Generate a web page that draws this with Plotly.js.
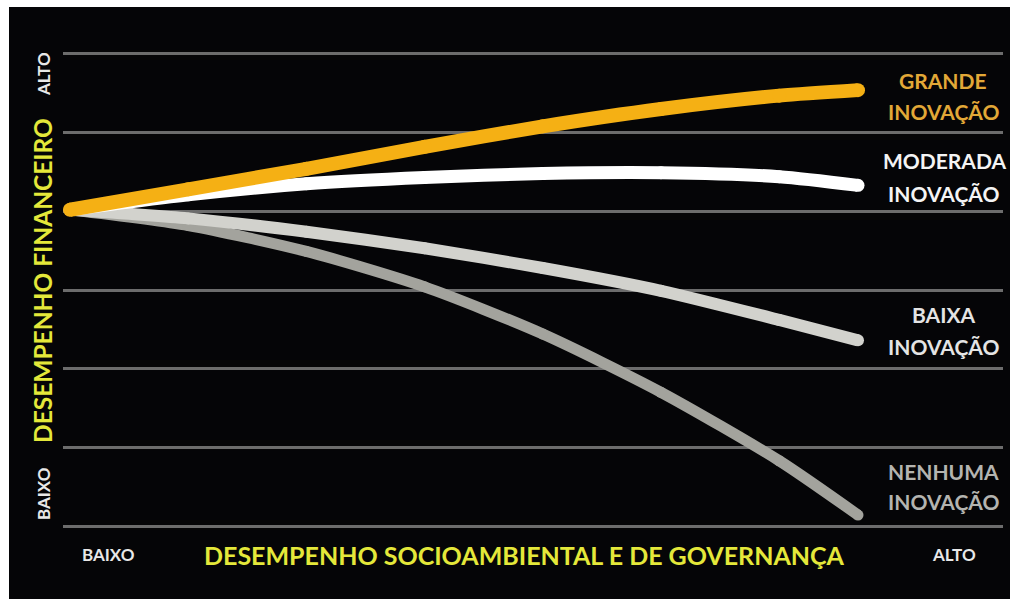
<!DOCTYPE html>
<html>
<head>
<meta charset="utf-8">
<script src="https://cdn.plot.ly/plotly-3.0.1.min.js"></script>
<style>
  html, body { margin: 0; padding: 0; background: #ffffff; width: 1022px; height: 599px; overflow: hidden; }
  #chart { position: absolute; left: 9px; top: 7px; width: 1001px; height: 592px; }
</style>
</head>
<body>
<div id="chart"></div>
<script>
// Socio-environmental & governance performance (x, 0..100) vs financial performance (y, 0..60)
const xValues = [0, 15, 30, 45, 60, 75, 90, 100];
const grande   = [40.2, 42.8, 45.4, 48.2, 50.8, 53.0, 54.7, 55.4];
const moderada = [40.2, 42.1, 43.5, 44.3, 44.8, 44.9, 44.4, 43.3];
const baixa    = [40.2, 39.1, 37.4, 35.3, 32.8, 29.9, 26.2, 23.6];
const nenhuma  = [40.2, 38.2, 34.9, 30.4, 24.4, 17.0, 8.3, 1.4];
const gridLevels = [0, 10, 20, 30, 40, 50, 60];

const seriesNames = ["NENHUMA INOVAÇÃO", "BAIXA INOVAÇÃO", "MODERADA INOVAÇÃO", "GRANDE INOVAÇÃO"];
const seriesData = [nenhuma, baixa, moderada, grande];
const seriesColors = ["#a3a39d", "#d2d2cd", "#ffffff", "#f5b014"];
const seriesWidths = [11, 12, 13, 14];

const traces = seriesData.map((ys, i) => ({
  type: "scatter",
  mode: "lines+markers",
  name: seriesNames[i],
  x: xValues,
  y: ys,
  line: { color: seriesColors[i], width: seriesWidths[i], shape: "spline", smoothing: 0.7 },
  marker: { color: seriesColors[i], size: seriesWidths[i], line: { width: 0 } },
  hoverinfo: "skip"
}));

// plot area: 940 x 480 px (page x 63..1003, page y 50..530)
const PW = 940, PH = 480;
const px = (pageX) => (pageX - 63) / PW;
const py = (pageY) => (530 - pageY) / PH;

const labelFont = (color, size) => ({ family: "Lato, 'Open Sans', sans-serif", size: size, color: color, weight: 700 });

const annotations = [
  { text: "<b>GRANDE</b>",   x: px(943), y: py(80),  font: labelFont("#e2a837", 21) },
  { text: "<b>INOVAÇÃO</b>", x: px(943), y: py(111), font: labelFont("#e2a837", 21) },
  { text: "<b>MODERADA</b>", x: px(944), y: py(161), font: labelFont("#f4f4f4", 21) },
  { text: "<b>INOVAÇÃO</b>", x: px(943), y: py(193), font: labelFont("#f4f4f4", 21) },
  { text: "<b>BAIXA</b>",    x: px(943), y: py(315), font: labelFont("#e4e4e4", 21) },
  { text: "<b>INOVAÇÃO</b>", x: px(943), y: py(346), font: labelFont("#e4e4e4", 21) },
  { text: "<b>NENHUMA</b>",  x: px(943), y: py(471), font: labelFont("#b4b4b0", 21) },
  { text: "<b>INOVAÇÃO</b>", x: px(943), y: py(501), font: labelFont("#b4b4b0", 21) },
  { text: "<b>ALTO</b>",  x: px(43), y: py(74),  textangle: -90, font: labelFont("#e8e8e8", 17) },
  { text: "<b>BAIXO</b>", x: px(43), y: py(494), textangle: -90, font: labelFont("#e8e8e8", 17) },
  { text: "<b>DESEMPENHO FINANCEIRO</b>", x: px(42), y: py(281), textangle: -90, font: labelFont("#e4e83a", 24.5) },
  { text: "<b>BAIXO</b>", x: px(108), y: py(554), font: labelFont("#e8e8e8", 17) },
  { text: "<b>DESEMPENHO SOCIOAMBIENTAL E DE GOVERNANÇA</b>", x: px(524), y: py(555), font: labelFont("#e4e83a", 25) },
  { text: "<b>ALTO</b>",  x: px(954), y: py(554), font: labelFont("#e8e8e8", 17) }
].map(a => Object.assign({ xref: "paper", yref: "paper", xanchor: "center", yanchor: "middle", showarrow: false }, a));

const layout = {
  width: 1001,
  height: 592,
  margin: { l: 54, r: 7, t: 43, b: 69 },
  paper_bgcolor: "#050507",
  plot_bgcolor: "#050507",
  showlegend: false,
  xaxis: {
    range: [-0.888, 118.4],
    showgrid: false, zeroline: false, showline: false, showticklabels: false, ticks: ""
  },
  yaxis: {
    range: [-0.5, 60.5],
    tickmode: "array",
    tickvals: gridLevels,
    showgrid: true, gridcolor: "#6c6c6c", gridwidth: 3,
    zeroline: false, showline: false, showticklabels: false, ticks: ""
  },
  annotations: annotations
};

Plotly.newPlot("chart", traces, layout, { staticPlot: true, displayModeBar: false });
</script>
</body>
</html>
